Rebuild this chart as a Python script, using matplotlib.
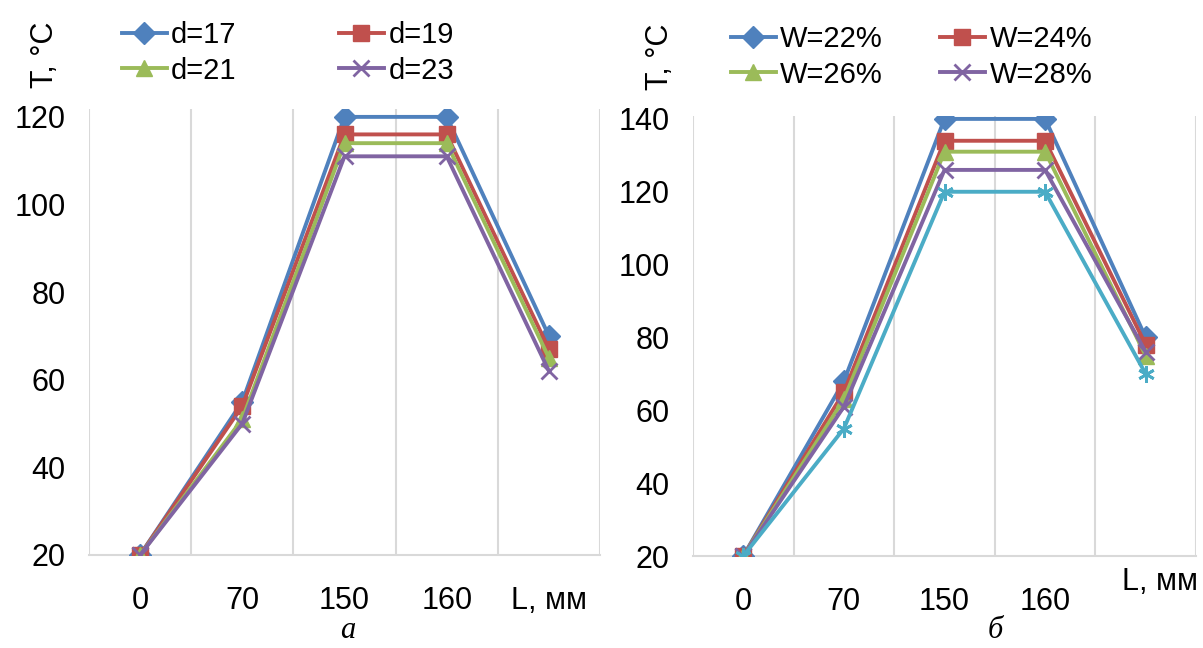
import numpy as np
from matplotlib import pyplot as plt

plt.rcParams['font.family'] = ['Liberation Sans', 'DejaVu Sans']

# данные (categories along L)
categories = ['0', '70', '150', '160', 'L, мм']

d_labels = ['d=17', 'd=19', 'd=21', 'd=23']
d17 = [20, 55, 120, 120, 70]
d19 = [20, 54, 116, 116, 67]
d21 = [20, 51, 114, 114, 65]
d23 = [20, 50, 111, 111, 62]

w_labels = ['W=22%', 'W=24%', 'W=26%', 'W=28%']
w22 = [20, 68, 140, 140, 80]
w24 = [20, 65, 134, 134, 78]
w26 = [20, 63, 131, 131, 75]
w28 = [20, 61, 126, 126, 76]
w_extra = [20, 55, 120, 120, 70]    # cyan series, not in legend

colors = ['#4F81BD', '#C0504D', '#9BBB59', '#8064A2', '#4BACC6']
markers = ['D', 's', '^', 'x', (6, 2, 0)]
msizes = [11, 12, 12, 12, 12]

fig = plt.figure(figsize=(12.03, 6.48), dpi=100)
axL = fig.add_axes([89 / 1203, 1 - 555 / 648, (600 - 89) / 1203, (555 - 109) / 648])
axR = fig.add_axes([693 / 1203, 1 - 556 / 648, (1196 - 693) / 1203, (556 - 116) / 648])

FS = 21
TFS = 22


def draw(ax, series, labels, ymax, top):
    x = np.arange(len(categories))
    lines = []
    for i, s in enumerate(series):
        ln, = ax.plot(x, s, color=colors[i], lw=2.8, marker=markers[i], ms=msizes[i],
                      mew=2 if markers[i] in ('x', (6, 2, 0)) else 1, zorder=3 + i)
        lines.append(ln)
    ax.set_xlim(-0.5, 4.5)
    ax.set_ylim(20, top)
    ax.set_yticks(np.arange(20, ymax + 1, 20))
    ax.set_xticks(x)
    for b in np.arange(-0.5, 5, 1):
        ax.axvline(b, color='#d9d9d9', lw=1.5, zorder=1)
    for sp in ['top', 'left', 'right']:
        ax.spines[sp].set_visible(False)
    ax.spines['bottom'].set_color('#d9d9d9')
    ax.spines['bottom'].set_linewidth(1.5)
    ax.tick_params(axis='both', length=0, labelsize=TFS)
    ax.tick_params(axis='y', pad=17)
    ax.tick_params(axis='x', pad=22)
    return lines


linesL = draw(axL, [d17, d19, d21, d23], d_labels, 120, 121.8)
axL.set_xticklabels(categories)
linesR = draw(axR, [w22, w24, w26, w28, w_extra], w_labels, 140, 140.8)
axR.set_xticklabels(categories[:4] + [''])
fig.text(1160 / 1203, 1 - 582 / 648, 'L, мм', fontsize=TFS, ha='center', va='center')

# легенды
order = [0, 2, 1, 3]
fig.legend([linesL[i] for i in order], [d_labels[i] for i in order], ncol=2, frameon=False,
           fontsize=FS, loc='center left', bbox_to_anchor=(107 / 1203, 1 - 53 / 648),
           handlelength=1.55, handletextpad=0.15, columnspacing=3.5, labelspacing=0.25,
           borderpad=0, markerscale=1)
fig.legend([linesR[i] for i in order], [w_labels[i] for i in order], ncol=2, frameon=False,
           fontsize=FS, loc='center left', bbox_to_anchor=(716 / 1203, 1 - 57 / 648),
           handlelength=1.55, handletextpad=0.15, columnspacing=1.95, labelspacing=0.25,
           borderpad=0, markerscale=1)

# подписи осей
fig.text(45 / 1203, 1 - 55 / 648, 'T, °C', fontsize=TFS, rotation=90, ha='center', va='center')
fig.text(660 / 1203, 1 - 57 / 648, 'T, °C', fontsize=TFS, rotation=90, ha='center', va='center')

fig.text(348 / 1203, 1 - 630 / 648, 'а', fontsize=TFS, style='italic', family='Liberation Serif',
         ha='center', va='center')
fig.text(995 / 1203, 1 - 630 / 648, 'б', fontsize=TFS, style='italic', family='Liberation Serif',
         ha='center', va='center')

plt.savefig('out.png', dpi=100)
